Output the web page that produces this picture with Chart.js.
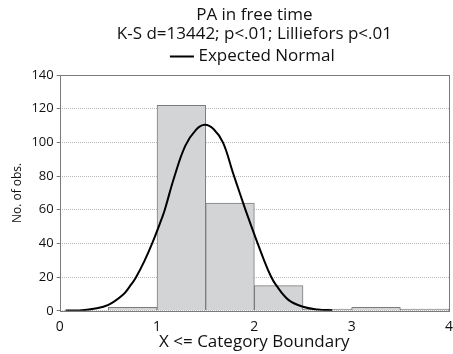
<!DOCTYPE html>
<html>
<head>
<meta charset="utf-8">
<script src="https://cdn.jsdelivr.net/npm/chart.js@4.4.1/dist/chart.umd.min.js"></script>
<style>
  html, body { margin: 0; padding: 0; background: #fff; }
  #wrap { width: 453px; height: 354px; }
</style>
</head>
<body>
<div id="wrap"><canvas id="histogram"></canvas></div>
<script>
// histogram bins (upper boundary - 0.25) and counts
var binCenters = [0.75, 1.25, 1.75, 2.25, 2.75, 3.25, 3.75];
var binCounts = [2, 122, 64, 15, 1, 2, 1];

// expected normal curve, read point by point
var normalX = [0.06, 0.2, 0.35, 0.5, 0.65, 0.72, 0.78, 0.87, 0.95, 1.05, 1.08, 1.175, 1.29, 1.4, 1.49, 1.58, 1.677, 1.78, 1.85, 1.93, 2.034, 2.1, 2.17, 2.22, 2.35, 2.5, 2.65, 2.8];
var normalY = [0.2, 0.2, 1.2, 3.5, 9.5, 14.5, 19.5, 29.5, 40, 55, 60, 79, 98, 107.5, 110.5, 108, 100, 82, 70, 56.5, 40, 30, 20.5, 15.5, 6.5, 2.4, 0.8, 0.3];

var xTicks = [0, 1, 2, 3, 4];
var yTicks = [0, 20, 40, 60, 80, 100, 120, 140];

var font = '"Open Sans", "DejaVu Sans", sans-serif';
Chart.defaults.font.family = font;
Chart.defaults.color = '#111';

// solid grey box round the plot area
var frame = {
  id: 'frame',
  afterDatasetsDraw: function(chart) {
    var a = chart.chartArea, c = chart.ctx;
    c.save();
    c.strokeStyle = '#7a7a7a';
    c.lineWidth = 1;
    c.strokeRect(Math.round(a.left) + 0.5, Math.round(a.top) + 0.5,
                 Math.round(a.right - a.left), Math.round(a.bottom - a.top));
    c.restore();
  }
};

function toPoints(xs, ys) {
  return xs.map(function(x, i) { return { x: x, y: ys[i] }; });
}

var ctx = document.getElementById('histogram');
new Chart(ctx, {
  data: {
    datasets: [{
      type: 'line',
      label: 'Expected Normal',
      data: toPoints(normalX, normalY),
      borderColor: '#000',
      borderWidth: 2,
      pointRadius: 0,
      tension: 0.4,
      fill: false,
      order: 0
    }, {
      type: 'bar',
      label: 'Observed',
      data: toPoints(binCenters, binCounts),
      backgroundColor: '#d3d4d6',
      borderColor: '#7c7c7c',
      borderWidth: 1,
      barPercentage: 1,
      categoryPercentage: 1,
      order: 1
    }]
  },
  options: {
    responsive: true,
    maintainAspectRatio: false,
    animation: false,
    layout: { padding: { left: 10, right: 2, top: 1, bottom: 2 } },
    scales: {
      x: {
        type: 'linear',
        offset: false,
        min: 0,
        max: 4,
        afterBuildTicks: function(s) { s.ticks = xTicks.map(function(v) { return { value: v }; }); },
        grid: { display: false },
        border: { display: false },
        ticks: { font: { size: 14 }, padding: 0, maxRotation: 0 },
        title: { display: true, text: 'X <= Category Boundary', font: { size: 17 }, padding: { top: -4, bottom: 0 } }
      },
      y: {
        min: 0,
        max: 140,
        afterBuildTicks: function(s) { s.ticks = yTicks.map(function(v) { return { value: v }; }); },
        grid: { color: '#b8b8b8', tickColor: '#7a7a7a', tickLength: 3, tickBorderDash: [] },
        border: { display: false, dash: [1, 1] },
        ticks: { font: { size: 13 }, padding: 3 },
        title: { display: true, text: 'No. of obs.', font: { size: 12 }, padding: { top: 0, bottom: 4 } }
      }
    },
    plugins: {
      title: {
        display: true,
        fullSize: false,
        text: ['PA in free time', 'K-S d=13442; p<.01; Lilliefors p<.01'],
        font: { size: 17, weight: 'normal', lineHeight: 1.15 },
        color: '#111',
        padding: { top: 4, bottom: 0 }
      },
      legend: {
        display: true,
        fullSize: false,
        labels: {
          filter: function(item) { return item.text === 'Expected Normal'; },
          usePointStyle: true,
          pointStyle: 'line',
          boxWidth: 16,
          color: '#111',
          font: { size: 17 },
          padding: 4
        }
      },
      tooltip: { enabled: false }
    }
  },
  plugins: [frame]
});
</script>
</body>
</html>
